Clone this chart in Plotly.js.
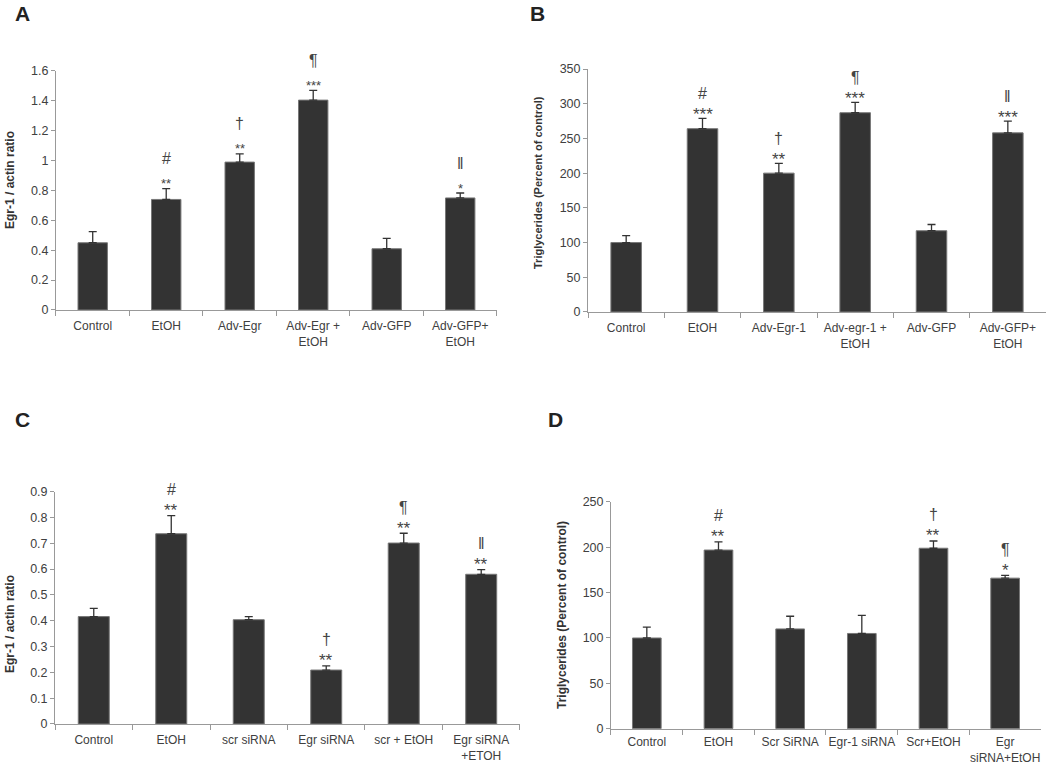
<!DOCTYPE html>
<html>
<head>
<meta charset="utf-8">
<script src="https://cdn.plot.ly/plotly-3.0.1.min.js"></script>
<style>html,body{margin:0;padding:0;background:#fff}#chart{width:1050px;height:765px}</style>
</head>
<body>
<div id="chart"></div>
<script>
// ---- Panel A ----
const catsA = ["Control", "EtOH", "Adv-Egr", "Adv-Egr +<br>EtOH", "Adv-GFP", "Adv-GFP+<br>EtOH"];
const valsA = [0.45, 0.74, 0.99, 1.405, 0.41, 0.75];
const errA = [0.075, 0.072, 0.055, 0.065, 0.07, 0.033];
const starsA = ["", "**", "**", "***", "", "*"];
const symsA = ["", "#", "†", "¶", "", "‖"];

// ---- Panel B ----
const catsB = ["Control", "EtOH", "Adv-Egr-1", "Adv-egr-1 +<br>EtOH", "Adv-GFP", "Adv-GFP+<br>EtOH"];
const valsB = [100, 264, 200, 287, 117, 258];
const errB = [10, 15, 14, 15, 9, 17];
const starsB = ["", "***", "**", "***", "", "***"];
const symsB = ["", "#", "†", "¶", "", "‖"];

// ---- Panel C ----
const catsC = ["Control", "EtOH", "scr siRNA", "Egr siRNA", "scr + EtOH", "Egr siRNA<br>+ETOH"];
const valsC = [0.416, 0.737, 0.404, 0.209, 0.701, 0.58];
const errC = [0.032, 0.07, 0.012, 0.016, 0.038, 0.018];
const starsC = ["", "**", "", "**", "**", "**"];
const symsC = ["", "#", "", "†", "¶", "‖"];

// ---- Panel D ----
const catsD = ["Control", "EtOH", "Scr SiRNA", "Egr-1 siRNA", "Scr+EtOH", "Egr<br>siRNA+EtOH"];
const valsD = [100, 197, 110, 105, 199, 166];
const errD = [12, 9, 14, 20, 8, 3];
const starsD = ["", "**", "", "", "**", "*"];
const symsD = ["", "#", "", "", "†", "¶"];

const yTitles = ["Egr-1 / actin ratio", "Triglycerides (Percent of control)", "Egr-1 / actin ratio", "Triglycerides (Percent of control)"];
const panelLetters = ["A", "B", "C", "D"];

const FONT = "Liberation Sans, Arial, sans-serif";
const TXT = "#404040";
const BAR = "#333333";

const panels = [
  {cats: catsA, vals: valsA, err: errA, stars: starsA, syms: symsA, range: [0, 1.6], dtick: 0.2,
   xd: [0.0533, 0.4733], yd: [0.5948, 0.9072], starSize: 13, starShift: 5, symShift: 30, titleSize: 12,
   standoff: 5, title: [10, 180], letter: [22, 0, "top"]},
  {cats: catsB, vals: valsB, err: errB, stars: starsB, syms: symsB, range: [0, 350], dtick: 50,
   xd: [0.56, 0.9962], yd: [0.5922, 0.9098], starSize: 17, starShift: 4, symShift: 25, titleSize: 11,
   standoff: 5, title: [538, 183], letter: [537, 0, "top"]},
  {cats: catsC, vals: valsC, err: errC, stars: starsC, syms: symsC, range: [0, 0.9], dtick: 0.1,
   xd: [0.0524, 0.4952], yd: [0.0536, 0.3573], starSize: 17, starShift: 5, symShift: 26, titleSize: 12,
   standoff: 5, title: [10, 624], letter: [22, 419, "middle"]},
  {cats: catsD, vals: valsD, err: errD, stars: starsD, syms: symsD, range: [0, 250], dtick: 50,
   xd: [0.5819, 0.9914], yd: [0.0475, 0.3438], starSize: 17, starShift: 5, symShift: 26, titleSize: 12,
   standoff: 2, title: [562, 615], letter: [555, 419, "middle"]}
];

const data = [];
const layout = {
  width: 1050, height: 765,
  margin: {l: 0, r: 0, t: 0, b: 0},
  paper_bgcolor: "#fff", plot_bgcolor: "#fff",
  showlegend: false,
  bargap: 0.6,
  font: {family: FONT, color: TXT, size: 12},
  annotations: []
};

panels.forEach((p, i) => {
  const n = i === 0 ? "" : String(i + 1);
  const xa = "x" + n, ya = "y" + n;
  data.push({
    type: "bar", x: p.cats, y: p.vals, xaxis: xa, yaxis: ya,
    marker: {color: BAR, line: {color: "#777", width: 1}},
    error_y: {type: "data", symmetric: false, array: p.err, arrayminus: p.err.map(() => 0),
              color: "#333", thickness: 1.3, width: 4},
    hoverinfo: "x+y"
  });
  layout["xaxis" + n] = {
    domain: p.xd, anchor: ya, type: "category",
    showline: true, linecolor: "#999", linewidth: 1,
    ticks: "outside", tickson: "boundaries", ticklen: 5, tickcolor: "#999",
    tickangle: 0, ticklabelstandoff: p.standoff,
    showgrid: false, zeroline: false, fixedrange: true,
    tickfont: {family: FONT, size: 12, color: TXT}
  };
  layout["yaxis" + n] = {
    domain: p.yd, anchor: xa, range: p.range, dtick: p.dtick,
    showline: true, linecolor: "#999", linewidth: 1,
    ticks: "outside", ticklen: 4, tickcolor: "#999",
    showgrid: false, zeroline: false, fixedrange: true,
    tickfont: {family: FONT, size: 12.5, color: TXT}
  };
  // significance marks
  p.cats.forEach((c, j) => {
    const top = p.vals[j] + p.err[j];
    if (p.stars[j]) {
      layout.annotations.push({xref: xa, yref: ya, x: c, y: top, text: p.stars[j],
        showarrow: false, yanchor: "middle", yshift: p.starShift,
        font: {family: FONT, size: p.starSize, color: "#444"}});
    }
    if (p.syms[j]) {
      layout.annotations.push({xref: xa, yref: ya, x: c, y: top, text: p.syms[j],
        showarrow: false, yanchor: "middle", yshift: p.symShift,
        font: {family: FONT, size: 16, color: "#444"}});
    }
  });
  // y-axis title
  layout.annotations.push({xref: "paper", yref: "paper",
    x: p.title[0] / 1050, y: 1 - p.title[1] / 765, text: "<b>" + yTitles[i] + "</b>",
    textangle: -90, showarrow: false, xanchor: "center", yanchor: "middle",
    font: {family: FONT, size: p.titleSize, color: "#333"}});
  // panel letter
  layout.annotations.push({xref: "paper", yref: "paper",
    x: p.letter[0] / 1050, y: 1 - p.letter[1] / 765, text: "<b>" + panelLetters[i] + "</b>",
    showarrow: false, xanchor: "center", yanchor: p.letter[2],
    font: {family: FONT, size: 21, color: "#222"}});
});

Plotly.newPlot("chart", data, layout, {staticPlot: true, displayModeBar: false});
</script>
</body>
</html>
